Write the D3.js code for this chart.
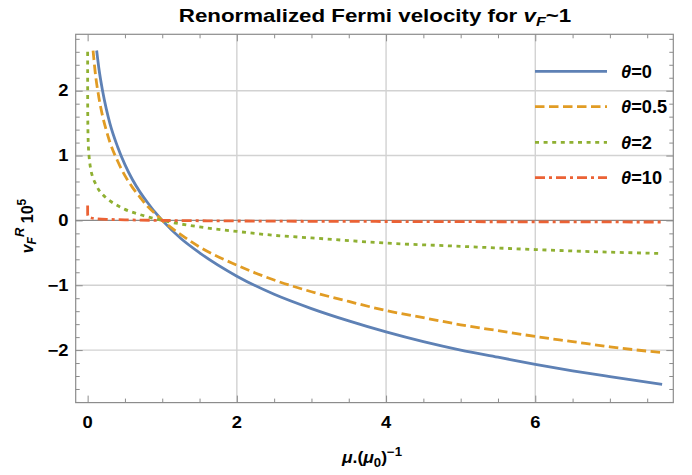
<!DOCTYPE html>
<html><head><meta charset="utf-8">
<script src="https://cdn.jsdelivr.net/npm/d3@7"></script>
<style>
body{margin:0;background:#fff}
text{font-family:"Liberation Sans",Arial,Helvetica,sans-serif;font-weight:bold;fill:#000}
</style>
</head><body>
<svg id="c" width="692" height="475"></svg>
<script>
// ---- data ----
const xTicks = [0, 2, 4, 6];
const yTicks = [-2, -1, 0, 1, 2];
const xMinor = [0.5, 1, 1.5, 2.5, 3, 3.5, 4.5, 5, 5.5, 6.5, 7, 7.5];
const yMinor = [-2.8,-2.6,-2.4,-2.2,-1.8,-1.6,-1.4,-1.2,-0.8,-0.6,-0.4,-0.2,0.2,0.4,0.6,0.8,1.2,1.4,1.6,1.8,2.2,2.4,2.6,2.8];
const seriesNames = ["0", "0.5", "2", "10"];

const theta0X = [0.121,0.15,0.2,0.25,0.3,0.4,0.5,0.6,0.7,0.8,0.9,1,1.25,1.5,2,2.5,3,3.5,4,4.5,5,5.5,6,6.5,7,7.7];
const theta0Y = [2.62,2.35,2.00,1.72,1.49,1.14,0.86,0.63,0.44,0.28,0.13,0,-0.28,-0.50,-0.86,-1.14,-1.36,-1.55,-1.72,-1.87,-2.00,-2.11,-2.22,-2.32,-2.41,-2.53];

const theta05X = [0.073,0.1,0.15,0.2,0.25,0.3,0.4,0.5,0.6,0.7,0.8,0.9,1,1.25,1.5,2,2.5,3,3.5,4,4.5,5,5.5,6,6.5,7,7.7];
const theta05Y = [2.62,2.30,1.90,1.61,1.39,1.20,0.92,0.69,0.51,0.36,0.22,0.11,0,-0.22,-0.41,-0.69,-0.92,-1.10,-1.25,-1.39,-1.50,-1.61,-1.70,-1.79,-1.87,-1.95,-2.04];

const theta2X = [0.00003,0.0001,0.0003,0.001,0.003,0.01,0.02,0.04,0.07,0.1,0.15,0.2,0.3,0.4,0.5,0.7,1,1.5,2,2.5,3,4,5,6,7,7.7];
const theta2Y = [2.60,2.30,2.03,1.73,1.45,1.15,0.98,0.80,0.66,0.58,0.47,0.40,0.30,0.23,0.17,0.09,0,-0.10,-0.17,-0.23,-0.27,-0.35,-0.40,-0.45,-0.49,-0.51];

const theta10X = [1e-8,1e-6,1e-4,0.001,0.01,0.05,0.1,0.3,0.5,1,2,3,4,5,6,7,7.7];
const theta10Y = [0.23,0.17,0.11,0.085,0.057,0.037,0.028,0.015,0.009,0,-0.009,-0.014,-0.017,-0.020,-0.022,-0.024,-0.025];

// ---- chart ----
const svg = d3.select("#c");
const L = 75.7, R = 673.3, T = 34.3, B = 402.6;
const x = d3.scaleLinear().domain([-0.16, 7.85]).range([L, R]);
const y = d3.scaleLinear().domain([-2.81, 2.87]).range([B, T]);

const colors = ["#5E81B5", "#E19C24", "#8FB032", "#EB6235"];
const dashes = [null, "9.5,4.5", "4,4.6", "10,4,3,4"];
const series = [
  {xs: theta0X, ys: theta0Y},
  {xs: theta05X, ys: theta05Y},
  {xs: theta2X, ys: theta2Y},
  {xs: theta10X, ys: theta10Y}
];

// grid
const grid = svg.append("g");
grid.selectAll("line.gx").data(xTicks.filter(d => d !== 0)).join("line")
  .attr("x1", d => x(d)).attr("x2", d => x(d)).attr("y1", T).attr("y2", B)
  .attr("stroke", "#d2d2d2").attr("stroke-width", 1.4);
grid.selectAll("line.gy").data(yTicks.filter(d => d !== 0)).join("line")
  .attr("y1", d => y(d)).attr("y2", d => y(d)).attr("x1", L).attr("x2", R)
  .attr("stroke", "#d2d2d2").attr("stroke-width", 1.4);
grid.append("line").attr("x1", L).attr("x2", R).attr("y1", y(0)).attr("y2", y(0))
  .attr("stroke", "#8a8a8a").attr("stroke-width", 1.2);

// clip
svg.append("clipPath").attr("id", "clip").append("rect")
  .attr("x", L).attr("y", T).attr("width", R - L).attr("height", B - T);

const line = d3.line().x(d => x(d[0])).y(d => y(d[1])).curve(d3.curveMonotoneX);
const curves = svg.append("g").attr("clip-path", "url(#clip)");
series.forEach((s, i) => {
  const pts = s.xs.map((v, j) => [v, s.ys[j]]);
  curves.append("path").datum(pts).attr("d", line)
    .attr("fill", "none").attr("stroke", colors[i]).attr("stroke-width", 2.8)
    .attr("stroke-dasharray", dashes[i]);
});

// axes (ticks inward on all four sides)
const frameColor = "#8c8c8c";
function styleAxis(g) {
  g.select(".domain").remove();
  g.selectAll(".tick line").attr("stroke", frameColor).attr("stroke-width", 1);
  g.selectAll(".tick text").remove();
}
[[d3.axisBottom, B], [d3.axisTop, T]].forEach(([ax, pos]) => {
  svg.append("g").attr("transform", `translate(0,${pos})`)
    .call(ax(x).tickValues(xTicks).tickSize(-7)).call(styleAxis);
  svg.append("g").attr("transform", `translate(0,${pos})`)
    .call(ax(x).tickValues(xMinor).tickSize(-4)).call(styleAxis);
});
[[d3.axisLeft, L], [d3.axisRight, R]].forEach(([ax, pos]) => {
  svg.append("g").attr("transform", `translate(${pos},0)`)
    .call(ax(y).tickValues(yTicks).tickSize(-7)).call(styleAxis);
  svg.append("g").attr("transform", `translate(${pos},0)`)
    .call(ax(y).tickValues(yMinor).tickSize(-4)).call(styleAxis);
});
// frame
svg.append("rect").attr("x", L).attr("y", T).attr("width", R - L).attr("height", B - T)
  .attr("fill", "none").attr("stroke", frameColor).attr("stroke-width", 1.2);

// tick labels
const fmt = d => d < 0 ? "\u2212" + Math.abs(d) : String(d);
svg.append("g").selectAll("text").data(xTicks).join("text")
  .attr("transform", d => `translate(${x(d)},427.5) scale(1.15,1)`)
  .attr("text-anchor", "middle").attr("font-size", 16).text(fmt);
svg.append("g").selectAll("text").data(yTicks).join("text")
  .attr("transform", d => `translate(68.5,${y(d) + 5.7}) scale(1.15,1)`)
  .attr("text-anchor", "end").attr("font-size", 16).text(fmt);

// title
const title = svg.append("text").attr("transform", "translate(375,21.5) scale(1.24,1)")
  .attr("text-anchor", "middle").attr("font-size", 18);
title.append("tspan").text("Renormalized Fermi velocity for ");
title.append("tspan").attr("font-style", "italic").text("v");
title.append("tspan").attr("font-style", "italic").attr("font-size", 13).attr("dy", 4).text("F");
title.append("tspan").attr("dy", -4).text("~1");

// x axis label
const xl = svg.append("text").attr("transform", "translate(372,463) scale(1.1,1)")
  .attr("text-anchor", "middle").attr("font-size", 16);
xl.append("tspan").attr("font-style", "italic").text("\u03bc");
xl.append("tspan").text(".(");
xl.append("tspan").attr("font-style", "italic").text("\u03bc");
xl.append("tspan").attr("font-size", 12).attr("dy", 4).text("0");
xl.append("tspan").attr("dy", -4).text(")");
xl.append("tspan").attr("font-size", 12).attr("dy", -7).text("\u22121");

// y axis label
const yl = svg.append("text").attr("transform", "translate(33,226) rotate(-90)")
  .attr("text-anchor", "middle").attr("font-size", 16);
yl.append("tspan").attr("font-style", "italic").text("v");
yl.append("tspan").attr("font-style", "italic").attr("font-size", 12).attr("dy", 3).text("F");
yl.append("tspan").attr("font-style", "italic").attr("font-size", 13).attr("dy", -12).text("R");
yl.append("tspan").attr("dy", 9).text(" 10");
yl.append("tspan").attr("font-size", 12).attr("dy", -7).text("5");

// legend
const legY = [71.3, 106.7, 142.3, 177.7];
const leg = svg.append("g");
seriesNames.forEach((n, i) => {
  leg.append("line").attr("x1", 535).attr("x2", 607).attr("y1", legY[i]).attr("y2", legY[i])
    .attr("stroke", colors[i]).attr("stroke-width", 2.8).attr("stroke-dasharray", dashes[i]);
  const t = leg.append("text").attr("transform", `translate(621,${legY[i] + 6.5}) scale(1.04,1)`)
    .attr("font-size", 17.5);
  t.append("tspan").attr("font-style", "italic").text("\u03b8");
  t.append("tspan").text("=" + n);
});
</script>
</body></html>
